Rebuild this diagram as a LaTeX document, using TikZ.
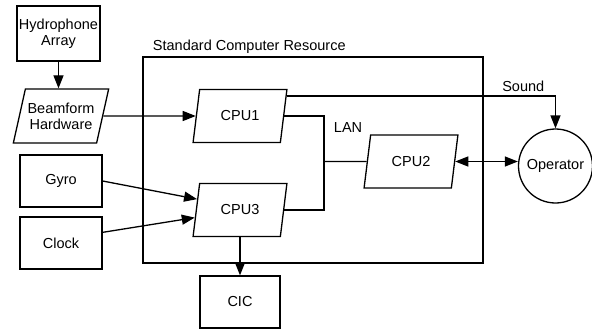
\documentclass[tikz,border=0pt]{standalone}
\usepackage{fontspec}
\setmainfont{Liberation Sans}
\usetikzlibrary{shapes.geometric,arrows.meta,calc}

\begin{document}
\begin{tikzpicture}[x=1pt,y=-1pt,line width=1.3pt,
  font=\fontsize{14.5}{16}\selectfont,
  >={Triangle[length=13pt,width=10pt]},
  unit/.style={rectangle,draw,minimum width=82pt,minimum height=52pt,align=center,inner sep=1pt},
  cpu/.style={trapezium,draw,trapezium left angle=73,trapezium right angle=107,
    trapezium stretches=true,minimum width=94pt,minimum height=53pt,inner sep=0pt,align=center}]
\useasboundingbox (0,0) rectangle (592,330);
\draw (143,57) rectangle (483,263);
\node (scr) [anchor=west] at (149,47) {Standard Computer Resource};

\node (hydro) [unit, minimum width=83pt, minimum height=55pt] at (58.5,33.5) {Hydrophone\\Array};
\node (beam) [cpu, trapezium left angle=67, trapezium right angle=113, minimum width=96pt, minimum height=54pt] at (61,116) {Beamform\\Hardware};
\node (gyro) [unit] at (61,181) {Gyro};
\node (clock) [unit] at (61,243) {Clock};
\node (cpu1) [cpu] at (240,116) {CPU1};
\node (cpu3) [cpu] at (240,210) {CPU3};
\node (cpu2) [cpu] at (411,161.5) {CPU2};
\node (cic) [unit, minimum width=80pt] at (240,302) {CIC};
\node (oper) [circle, draw, minimum size=74pt, inner sep=0pt] at (555.5,166) {Operator};
\coordinate (lan) at (324,161.5);

\draw [->] (hydro) -- (hydro |- beam.north);
\draw [->] (beam) -- (cpu1);
\draw [->] ($(cpu1.top right corner)!0.13!(cpu1.bottom right corner)$) -| node[pos=0.44, above] {Sound} (oper.north);
\draw (cpu1.east) -| (lan) |- (cpu3.east);
\draw (lan) -- (cpu2.west);
\node (lanlabel) [anchor=west] at (330,128) {LAN};
\draw [<->] (cpu2.east) -- (cpu2.east -| oper.west);
\draw [->] (gyro.east) -- ($(cpu3.top left corner)!0.3!(cpu3.bottom left corner)$);
\draw [->] ($(clock.north east)!0.3!(clock.south east)$) -- ($(cpu3.top left corner)!0.64!(cpu3.bottom left corner)$);
\draw [->] (cpu3.south) -- (cpu3.south |- cic.north);
\end{tikzpicture}
\end{document}
